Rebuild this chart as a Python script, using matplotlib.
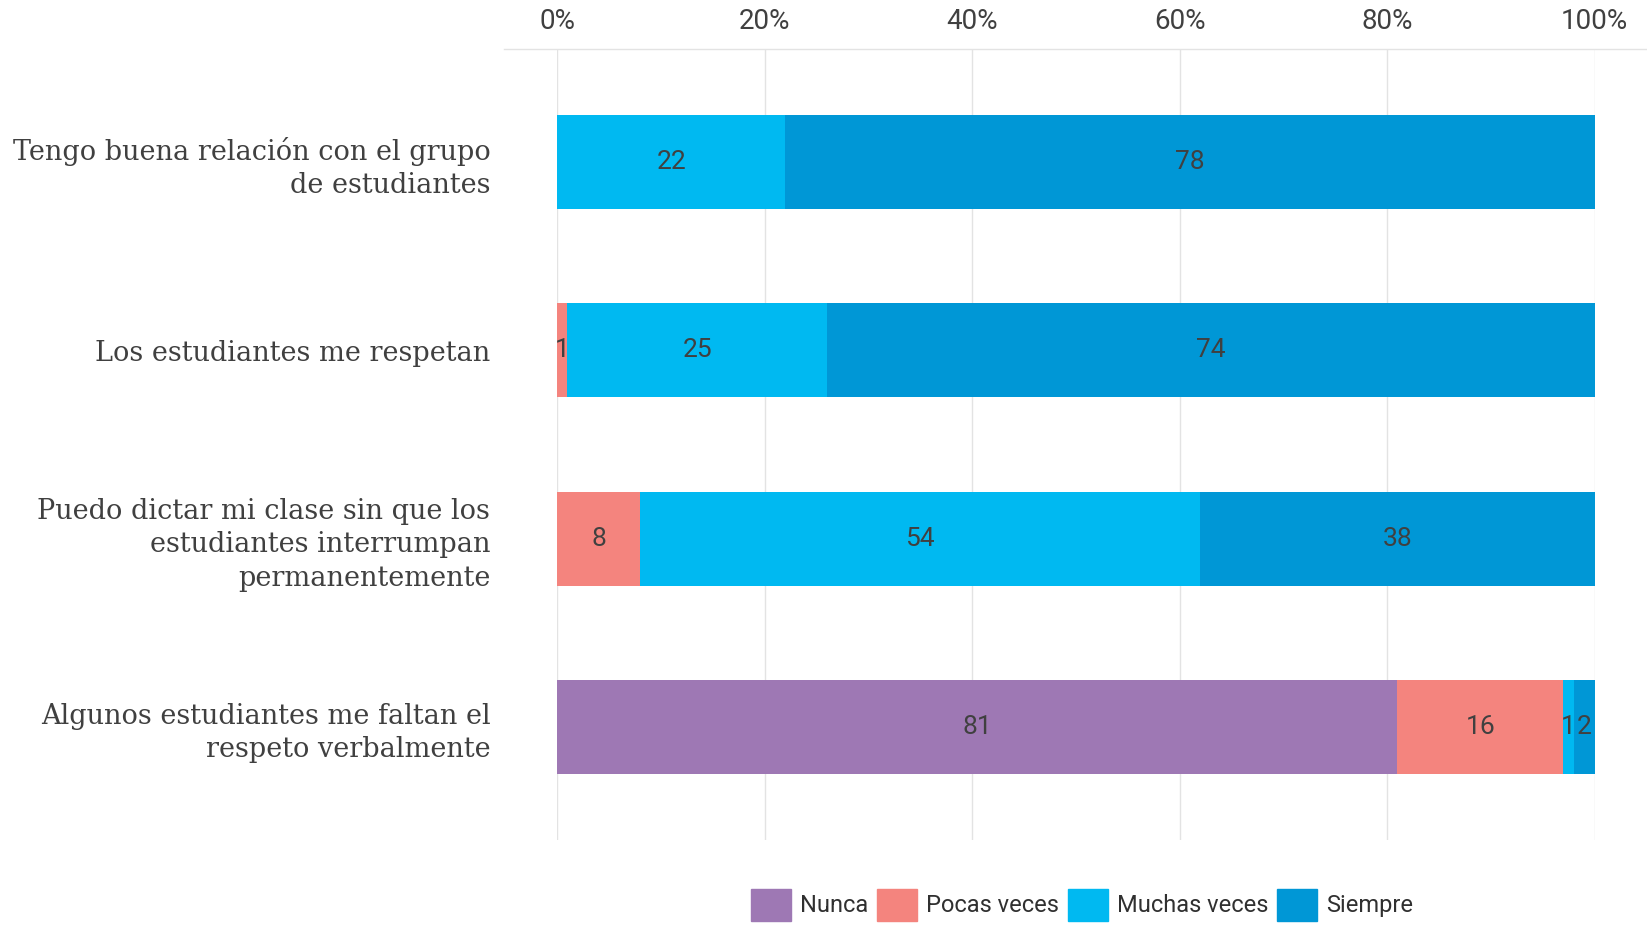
import matplotlib.pyplot as plt
from matplotlib.lines import Line2D
from matplotlib.patches import Patch

questions = [
    'Tengo buena relación con el grupo\nde estudiantes',
    'Los estudiantes me respetan',
    'Puedo dictar mi clase sin que los\nestudiantes interrumpan\npermanentemente',
    'Algunos estudiantes me faltan el\nrespeto verbalmente',
]
answers = ['Nunca', 'Pocas veces', 'Muchas veces', 'Siempre']
nunca = [0, 0, 0, 81]
pocas = [0, 1, 8, 16]
muchas = [22, 25, 54, 1]
siempre = [78, 74, 38, 2]
colors = ['#9e78b4', '#f4847e', '#00b9f1', '#0097d6']
ticks = [0, 20, 40, 60, 80, 100]

txt = '#404040'
fig = plt.figure(figsize=(16.47, 9.25), dpi=100)
ax = fig.add_axes([0.3382, 0.092, 0.630, 0.855])

series = [nunca, pocas, muchas, siempre]
left = [0] * len(questions)
for vals, name, col in zip(series, answers, colors):
    bars = ax.barh(range(len(questions)), vals, left=left, height=0.5,
                   color=col, label=name, zorder=2)
    for b, v in zip(bars, vals):
        if v > 0:
            ax.text(b.get_x() + b.get_width() / 2, b.get_y() + b.get_height() / 2,
                    str(v), ha='center', va='center', fontsize=19, color=txt,
                    family='Roboto', zorder=3)
    left = [l + v for l, v in zip(left, vals)]

ax.set_xlim(0, 100)
ax.set_ylim(3.6, -0.6)
ax.set_xticks(ticks)
ax.set_xticklabels([f'{t}%' for t in ticks], fontsize=20, color=txt,
                   family='Roboto')
ax.xaxis.tick_top()
ax.tick_params(axis='x', length=0, pad=10)
ax.set_yticks(range(len(questions)))
ax.set_yticklabels(questions, fontsize=19.5, color=txt, family='DejaVu Serif',
                   linespacing=1.3)
ax.tick_params(axis='y', length=0, pad=48)
ax.grid(axis='x', color='#e3e3e3', linewidth=1, zorder=0)
for s in ax.spines.values():
    s.set_visible(False)

# thin rule under the percentage scale
fig.add_artist(Line2D([0.306, 1.0], [0.947, 0.947], color='#e3e3e3', lw=1))

handles = [Patch(color=c, label=a) for a, c in zip(answers, colors)]
fig.legend(handles=handles, loc='center', bbox_to_anchor=(0.657, 0.022),
           ncol=4, frameon=False, handlelength=1.7,
           handleheight=1.7, handletextpad=0.4, columnspacing=0.35,
           labelcolor='#303030', prop={'family': 'Roboto', 'size': 17})

fig.savefig('out.png', dpi=100)
